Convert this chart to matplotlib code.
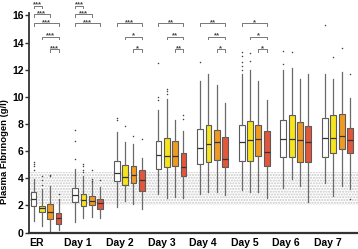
import matplotlib
matplotlib.use("Agg")
import matplotlib.pyplot as plt

plt.rcParams["font.family"] = ["Liberation Sans", "DejaVu Sans"]

days = ["ER", "Day 1", "Day 2", "Day 3", "Day 4", "Day 5", "Day 6", "Day 7"]
colors = ["#ffffff", "#f7e41c", "#f19a22", "#e2563b"]

# per series (white, yellow, orange, red), one value per day
whislo = [[0.85, 0.80, 1.91, 2.85, 2.85, 3.15, 3.32, 3.69],
          [0.50, 1.10, 2.33, 2.53, 2.98, 2.98, 3.96, 2.70],
          [0.06, 1.17, 2.09, 2.60, 3.02, 2.98, 3.40, 3.40],
          [0.19, 1.10, 1.74, 2.58, 2.78, 2.58, 2.23, 3.20]]
q1 = [[1.99, 2.28, 3.77, 4.70, 5.05, 5.24, 5.57, 5.57],
      [1.49, 1.99, 3.47, 4.83, 5.17, 5.30, 5.57, 5.86],
      [1.00, 2.04, 3.69, 4.93, 5.32, 5.62, 5.17, 6.16],
      [0.63, 1.72, 3.07, 4.20, 4.80, 4.93, 5.17, 5.86]]
med = [[2.48, 2.78, 4.38, 5.74, 6.23, 6.68, 6.93, 6.98],
       [1.79, 2.41, 4.09, 5.62, 6.53, 6.80, 6.93, 6.98],
       [1.50, 2.36, 4.26, 5.62, 6.70, 6.90, 6.85, 7.15],
       [1.05, 2.16, 3.84, 4.83, 5.44, 5.91, 6.65, 6.85]]
q3 = [[2.98, 3.27, 5.30, 6.73, 7.64, 7.91, 8.26, 8.46],
      [1.96, 2.85, 5.00, 6.98, 7.91, 8.20, 8.65, 8.65],
      [2.09, 2.70, 4.87, 6.78, 7.57, 7.96, 8.16, 8.75],
      [1.42, 2.48, 4.63, 5.86, 7.07, 7.47, 7.89, 7.72]]
whishi = [[3.96, 4.68, 7.40, 9.07, 11.17, 11.67, 11.96, 11.67],
          [3.20, 4.19, 6.68, 9.87, 11.67, 11.99, 12.16, 11.35],
          [3.44, 3.77, 6.53, 8.33, 10.85, 11.17, 11.35, 11.86],
          [2.48, 3.35, 5.49, 7.52, 9.57, 9.77, 11.72, 9.94]]
fliers = [[[5.2, 5.07, 4.87, 4.63], [7.54, 6.73, 5.42], [8.46, 8.33], [12.48, 9.98, 9.8],
           [12.58], [13.3, 13.0, 12.6, 12.3, 12.0], [13.4, 12.4], [15.3]],
          [[4.19, 3.84, 3.52], [5.05, 4.87, 4.63, 4.43], [7.84], [10.6, 10.43, 10.23],
           [], [13.27, 12.65], [13.3], [12.97]],
          [[4.2, 4.25], [4.63, 3.94, 3.81], [7.1], [], [], [], [], [13.64]],
          [[2.85], [3.89], [6.93], [8.63, 8.38], [], [], [], [11.72, 2.46]]]

# significance brackets: (day index, from series, to series, height, label)
brackets = [(0, 0, 1, 16.73, "***"), (0, 0, 2, 16.1, "***"), (0, 0, 3, 15.44, "***"),
            (0, 1, 3, 14.43, "***"), (0, 2, 3, 13.5, "***"),
            (1, 0, 1, 16.73, "***"), (1, 0, 2, 16.1, "***"), (1, 0, 3, 15.44, "***"),
            (2, 0, 3, 15.44, "***"), (2, 1, 3, 14.43, "*"), (2, 2, 3, 13.5, "*"),
            (3, 0, 3, 15.44, "**"), (3, 1, 3, 14.43, "**"), (3, 2, 3, 13.5, "**"),
            (4, 0, 3, 15.44, "**"), (4, 1, 3, 14.43, "**"), (4, 2, 3, 13.5, "*"),
            (5, 0, 3, 15.44, "*"), (5, 1, 3, 14.43, "*"), (5, 2, 3, 13.5, "*")]

fig = plt.figure(figsize=(3.58, 2.49), dpi=100)
ax = fig.add_axes([0.082, 0.066, 0.918, 0.88])

ax.axhspan(2, 4.5, facecolor="none", edgecolor="#c8c8c8", hatch="......", lw=0, zorder=0)

edge = "#5a5a5a"
for s in range(4):
    stats = [dict(whislo=whislo[s][d], q1=q1[s][d], med=med[s][d], q3=q3[s][d],
                  whishi=whishi[s][d], fliers=fliers[s][d]) for d in range(len(days))]
    pos = [d * 5 + s for d in range(len(days))]
    ax.bxp(stats, positions=pos, widths=0.7, patch_artist=True, showcaps=False,
           boxprops=dict(facecolor=colors[s], edgecolor=edge, lw=0.8),
           whiskerprops=dict(color="#6a6a6a", lw=0.9),
           medianprops=dict(color="#333333", lw=0.9),
           flierprops=dict(marker="o", ms=1.1, mfc="#444444", mec="none"))

for d, a, b, h, lab in brackets:
    x0, x1 = d * 5 + a, d * 5 + b
    ax.plot([x0, x0, x1, x1], [h - 0.18, h, h, h - 0.18], color="#777777", lw=0.7, clip_on=False)
    ax.text((x0 + x1) / 2, h - 0.06, lab, ha="center", va="baseline", fontsize=5.5,
            color="#444444", fontweight="bold")

ax.set_xlim(-0.5, 38.96)
ax.set_ylim(0, 16.15)
ax.set_yticks(range(0, 17, 2))
ax.set_xticks([d * 5 + 0.35 for d in range(len(days))])
ax.set_xticklabels(days, fontweight="bold", fontsize=7.5)
ax.tick_params(axis="x", length=0, pad=4)
ax.tick_params(axis="y", length=3, width=1, labelsize=7.5, pad=1, color="#333333")
for t in ax.get_yticklabels():
    t.set_fontweight("bold")
ax.set_ylabel("Plasma Fibrinogen (g/l)", fontweight="bold", fontsize=6.8)
ax.yaxis.set_label_coords(-0.063, 0.37)
for sp in ["top", "right"]:
    ax.spines[sp].set_visible(False)
ax.spines["left"].set_linewidth(1.3)
ax.spines["bottom"].set_linewidth(1.6)
ax.spines["left"].set_color("#333333")
ax.spines["bottom"].set_color("#333333")

fig.savefig("out.png", dpi=100)
